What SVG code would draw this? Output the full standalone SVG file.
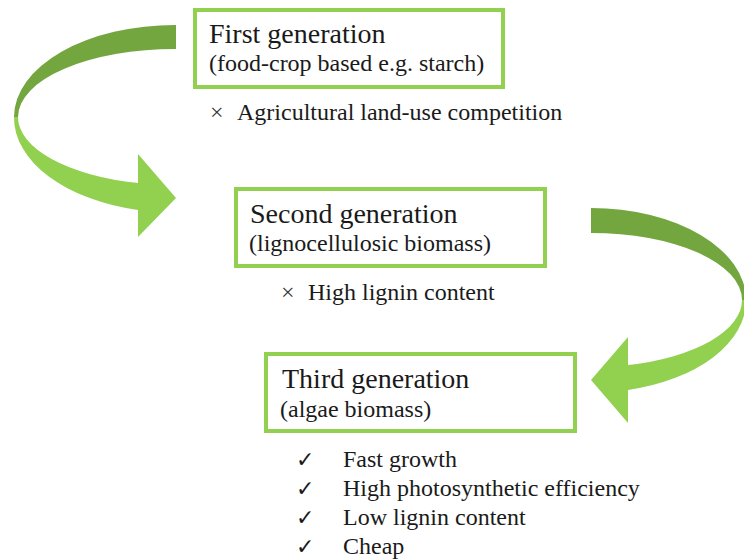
<svg xmlns="http://www.w3.org/2000/svg" width="744" height="560" viewBox="0 0 744 560">
<style>
.box{fill:#ffffff;stroke:#92d050;stroke-width:4}
.t{font-family:"Liberation Serif","Times New Roman",serif;fill:#1a1a1a}
.h{font-size:28px}
.s{font-size:24px}
.x{font-family:"Liberation Serif",serif;font-size:24px;fill:#333333}
.ck{font-family:"DejaVu Sans",sans-serif;font-size:22px;fill:#1a1a1a}
.dark{fill:#74a640}
.light{fill:#92d050}
</style>
<rect width="744" height="560" fill="#ffffff"/>
<g id="connectors">
  <g id="arrow1">
    <path class="dark" d="M176,25 A161,92 0 0 0 14,117 L18,117 A157,68 0 0 1 176,49 Z"/>
    <path class="light" d="M14,117 A161,95 0 0 0 138,210 L138,237 L176,198 L138,154 L138,183 A157,68 0 0 1 18,117 Z"/>
  </g>
  <g id="arrow2">
    <path class="dark" d="M591,208 A155,92 0 0 1 746,300 L742,300 A151,67 0 0 0 591,233 Z"/>
    <path class="light" d="M746,300 A155,92 0 0 1 628,390 L628,423 L591,380 L628,337 L628,365 A151,67 0 0 0 742,300 Z"/>
  </g>
</g>
<g id="first">
  <rect class="box" x="195" y="10" width="308" height="77"/>
  <text class="t h" x="209" y="43">First generation</text>
  <text class="t s" x="209" y="71">(food-crop based e.g. starch)</text>
  <text class="x" x="210" y="120">×</text>
  <text class="t s" x="237" y="120">Agricultural land-use competition</text>
</g>
<g id="second">
  <rect class="box" x="236" y="189" width="309" height="77"/>
  <text class="t h" x="250" y="223">Second generation</text>
  <text class="t s" x="249" y="251">(lignocellulosic biomass)</text>
  <text class="x" x="281" y="300">×</text>
  <text class="t s" x="308" y="300">High lignin content</text>
</g>
<g id="third">
  <rect class="box" x="266" y="354" width="309" height="77"/>
  <text class="t h" x="282" y="388">Third generation</text>
  <text class="t s" x="280" y="417">(algae biomass)</text>
  <text class="ck" x="296" y="467">✓</text>
  <text class="t s" x="343" y="467">Fast growth</text>
  <text class="ck" x="296" y="496">✓</text>
  <text class="t s" x="343" y="496">High photosynthetic efficiency</text>
  <text class="ck" x="296" y="525">✓</text>
  <text class="t s" x="343" y="525">Low lignin content</text>
  <text class="ck" x="296" y="554">✓</text>
  <text class="t s" x="343" y="554">Cheap</text>
</g>
</svg>
